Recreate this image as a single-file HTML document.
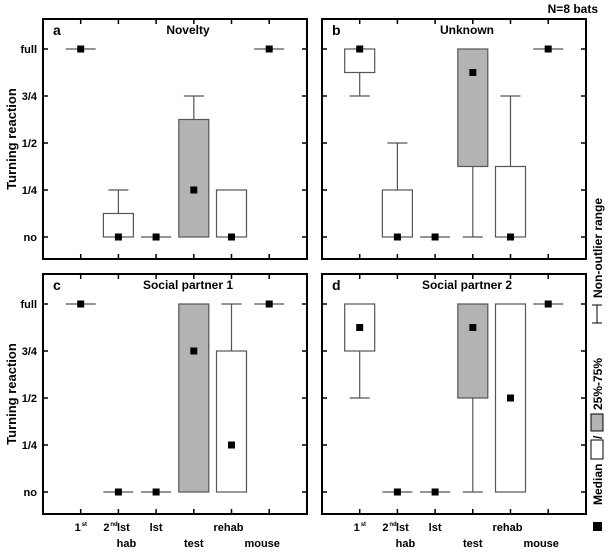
<!DOCTYPE html>
<html><head><meta charset="utf-8">
<style>
body{margin:0;background:#fff;}
svg{display:block;font-family:"Liberation Sans",Arial,sans-serif;font-weight:bold;}
</style></head>
<body>
<svg id="chart" width="610" height="553" viewBox="0 0 610 553" xmlns="http://www.w3.org/2000/svg">
<text x="598" y="13" font-size="12" text-anchor="end">N=8 bats</text>
<g transform="translate(604,545) rotate(-90)">
  <rect x="14" y="-11" width="9" height="9" fill="#000"/>
  <text x="40" y="-2" font-size="12">Median</text>
  <rect x="86" y="-13" width="19" height="12" fill="#fff" stroke="#000"/>
  <text x="106" y="-2" font-size="12">/</text>
  <rect x="114" y="-13" width="17" height="12" fill="#b3b3b3" stroke="#000"/>
  <text x="135" y="-2" font-size="12">25%-75%</text>
  <g stroke="#000" fill="none">
    <line x1="222" y1="-12" x2="222" y2="-2"/><line x1="240" y1="-12" x2="240" y2="-2"/><line x1="222" y1="-7" x2="240" y2="-7"/>
  </g>
  <text x="247" y="-2" font-size="12">Non-outlier range</text>
</g>
<g id="panels"></g>
</svg>
<script>
const categories = ["1st","2nd hab","lst hab","test","rehab","mouse"];
const titles = ["Novelty","Unknown","Social partner 1","Social partner 2"];
const letters = ["a","b","c","d"];
const yTickLabels = ["no","1/4","1/2","3/4","full"];
// values in quarters (0=no, 4=full): [min, q1, q3, max, median]
const dataA = [[4,4,4,4,4],[0,0,0.5,1,0],[0,0,0,0,0],[0,0,2.5,3,1],[0,0,1,1,0],[4,4,4,4,4]];
const dataB = [[3,3.5,4,4,4],[0,0,1,2,0],[0,0,0,0,0],[0,1.5,4,4,3.5],[0,0,1.5,3,0],[4,4,4,4,4]];
const dataC = [[4,4,4,4,4],[0,0,0,0,0],[0,0,0,0,0],[0,0,4,4,3],[0,0,3,4,1],[4,4,4,4,4]];
const dataD = [[2,3,4,4,3.5],[0,0,0,0,0],[0,0,0,0,0],[0,2,4,4,3.5],[0,0,4,4,2],[4,4,4,4,4]];
const grayIdx = 3;
const allData = [dataA,dataB,dataC,dataD];

const NS="http://www.w3.org/2000/svg";
const root=document.getElementById('panels');
function mk(tag,attrs,parent){const e=document.createElementNS(NS,tag);for(const k in attrs)e.setAttribute(k,attrs[k]);(parent||root).appendChild(e);return e;}
const origins=[[43,19],[322,19],[43,274],[322,274]];
const W=264,H=240;
allData.forEach((data,p)=>{
  const [ox,oy]=origins[p];
  const g=mk('g',{});
  
  
  const xs=i=>ox+37.7*(i+1);
  const ys=v=>oy+218-v*47;
  const fr=mk('rect',{x:ox,y:oy,width:W,height:H,fill:'none',stroke:'#000','stroke-width':2},g);
  
  
  for(let t=0;t<5;t++){
    const y=ys(t);
    mk('line',{x1:ox,x2:ox+5,y1:y,y2:y,stroke:'#000','stroke-width':1.5},g);
    mk('line',{x1:ox+W-5,x2:ox+W,y1:y,y2:y,stroke:'#000','stroke-width':1.5},g);
    if(p%2===0){
      const tl=mk('text',{x:ox-6,y:y+4,'font-size':11,'text-anchor':'end'},g);
      tl.textContent=yTickLabels[t];
      
      
    }
  }
  for(let i=0;i<6;i++){
    const x=xs(i);
    mk('line',{x1:x,x2:x,y1:oy,y2:oy+5,stroke:'#000','stroke-width':1.5},g);
    mk('line',{x1:x,x2:x,y1:oy+H-5,y2:oy+H,stroke:'#000','stroke-width':1.5},g);
  }
  const lt=mk('text',{x:ox+10,y:oy+16,'font-size':14},g);
  lt.textContent=letters[p];
  
  
  const tt=mk('text',{x:ox+145,y:oy+15,'font-size':12,'text-anchor':'middle'},g);
  tt.textContent=titles[p];
  
  
  data.forEach((d,i)=>{
    const [mn,q1,q3,mx,med]=d;const x=xs(i);
    const bg=mk('g',{stroke:'#555','stroke-width':1.2,fill:'none'},g);
    
    
    if(q1===q3){
      mk('line',{x1:x-15,x2:x+15,y1:ys(q1),y2:ys(q1)},bg);
    } else {
      if(mx>q3){mk('line',{x1:x,x2:x,y1:ys(mx),y2:ys(q3)},bg);mk('line',{x1:x-10,x2:x+10,y1:ys(mx),y2:ys(mx)},bg);}
      if(mn<q1){mk('line',{x1:x,x2:x,y1:ys(q1),y2:ys(mn)},bg);mk('line',{x1:x-10,x2:x+10,y1:ys(mn),y2:ys(mn)},bg);}
      mk('rect',{x:x-15,y:ys(q3),width:30,height:ys(q1)-ys(q3),fill:i===grayIdx?'#b3b3b3':'#fff'},bg);
    }
    const m=mk('rect',{x:x-3.5,y:ys(med)-3.5,width:7,height:7,fill:'#000',stroke:'none'},g);
    
    
  });
  if(p>=2){
    const add=(txt,x,y,name,sz,anchor)=>{const e=mk('text',{x:x,y:y,'font-size':sz||11,'text-anchor':anchor||'middle'},g);e.textContent=txt;return e;};
    add('1',xs(0)-3,oy+H+17,'x-label-1st');
    add('st',xs(0)+1,oy+H+12,'x-label-sup',6,'start');
    add('2',xs(1)-12,oy+H+17,'x-label-2nd');
    add('nd',xs(1)-8,oy+H+12,'x-label-sup',6,'start');
    add('lst',xs(1)+5,oy+H+17,'x-label-lst');
    add('lst',xs(2),oy+H+17,'x-label-lst');
    add('rehab',xs(4)-3,oy+H+17,'x-label-rehab');
    add('hab',xs(1)+8,oy+H+33,'x-label-hab');
    add('test',xs(3),oy+H+33,'x-label-test');
    add('mouse',xs(5)-7,oy+H+33,'x-label-mouse');
  }
});
[[16,139],[16,394]].forEach(([x,y])=>{
  const t=mk('text',{x:0,y:0,'font-size':13,'text-anchor':'middle',transform:`translate(${x},${y}) rotate(-90)`});
  t.textContent='Turning reaction';
  
  
});
</script>
</body></html>
